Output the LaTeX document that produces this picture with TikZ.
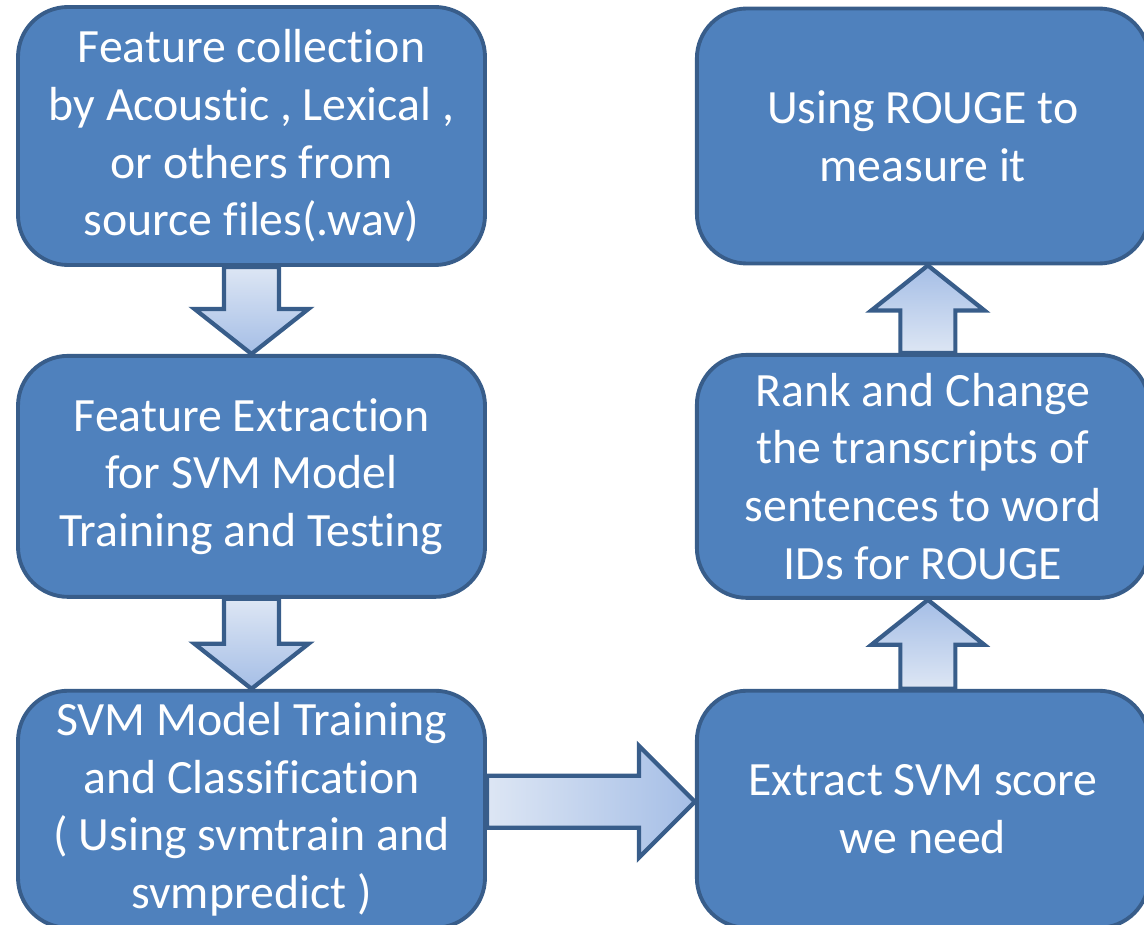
\documentclass[tikz,border=0pt]{standalone}
\usepackage{fontspec}
\setmainfont{Carlito}[Ligatures={NoCommon,NoRequired,NoContextual},Contextuals=NoAlternate]
\usepackage{xcolor}
\usepackage{tikz}
\usetikzlibrary{positioning,calc}

\definecolor{boxblue}{HTML}{4F81BD}
\definecolor{boxedge}{HTML}{385D8A}
\definecolor{arrowlight}{HTML}{DDE6F4}
\definecolor{arrowdark}{HTML}{A5BEE6}

\begin{document}
\begin{tikzpicture}

\tikzstyle{stage}=[draw=boxedge,line width=1.1pt,fill=boxblue,rounded corners=0.5cm,
  text=white,align=center,minimum height=2.4cm,inner sep=2pt,
  font=\fontsize{13.6}{16.4}\selectfont]
\tikzstyle{lstage}=[stage,minimum width=4.67cm]
\tikzstyle{rstage}=[stage,minimum width=4.52cm]
\tikzstyle{blockarrow}=[draw=boxedge,line width=1.2pt,line join=miter]

\useasboundingbox (0,0) rectangle (11.44,-9.24);

% left column
\node[lstage,minimum height=2.58cm] (collect) at (2.515,-1.36)
  {Feature collection\\by Acoustic , Lexical ,\\or others from\\source files(.wav)};
\node[lstage,below=0.87cm of collect,minimum height=2.41cm] (extract)
  {Feature Extraction\\for SVM Model\\Training and Testing};
\node[lstage,below=0.9cm of extract,minimum height=2.37cm] (train)
  {SVM Model Training\\and Classification\\( Using svmtrain and\\svmpredict )};

% right column
\node[rstage,right=2.08cm of collect,minimum height=2.55cm] (rouge)
  {Using ROUGE to\\measure it};
\node[rstage,right=2.08cm of extract,minimum height=2.43cm] (rank)
  {Rank and Change\\the transcripts of\\sentences to word\\IDs for ROUGE};
\node[rstage,right=2.08cm of train,minimum height=2.37cm] (score)
  {Extract SVM score\\we need};

% down arrows
\foreach \from/\to in {collect/extract,extract/train}
  \draw[blockarrow,top color=arrowlight,bottom color=arrowdark]
    let \p1=(\from.south), \p2=(\to.north) in
    (\x1-0.275cm,\y1) -- (\x1+0.275cm,\y1) -- (\x1+0.275cm,\y2+0.45cm)
    -- (\x1+0.57cm,\y2+0.45cm) -- (\x1,\y2) -- (\x1-0.57cm,\y2+0.45cm)
    -- (\x1-0.275cm,\y2+0.45cm) -- cycle;

% up arrows
\foreach \from/\to in {score/rank,rank/rouge}
  \draw[blockarrow,bottom color=arrowlight,top color=arrowdark]
    let \p1=([xshift=0.05cm]\from.north), \p2=([xshift=0.05cm]\to.south) in
    (\x1-0.275cm,\y1) -- (\x1+0.275cm,\y1) -- (\x1+0.275cm,\y2-0.45cm)
    -- (\x1+0.565cm,\y2-0.45cm) -- (\x1,\y2) -- (\x1-0.565cm,\y2-0.45cm)
    -- (\x1-0.275cm,\y2-0.45cm) -- cycle;

% right arrow
\draw[blockarrow,left color=arrowlight,right color=arrowdark]
  let \p1=([yshift=0.075cm]train.east), \p2=([yshift=0.075cm]score.west) in
  (\x1,\y1+0.26cm) -- (\x2-0.56cm,\y1+0.26cm) -- (\x2-0.56cm,\y1+0.56cm)
  -- (\x2,\y1) -- (\x2-0.56cm,\y1-0.56cm) -- (\x2-0.56cm,\y1-0.26cm)
  -- (\x1,\y1-0.26cm) -- cycle;

\end{tikzpicture}
\end{document}
